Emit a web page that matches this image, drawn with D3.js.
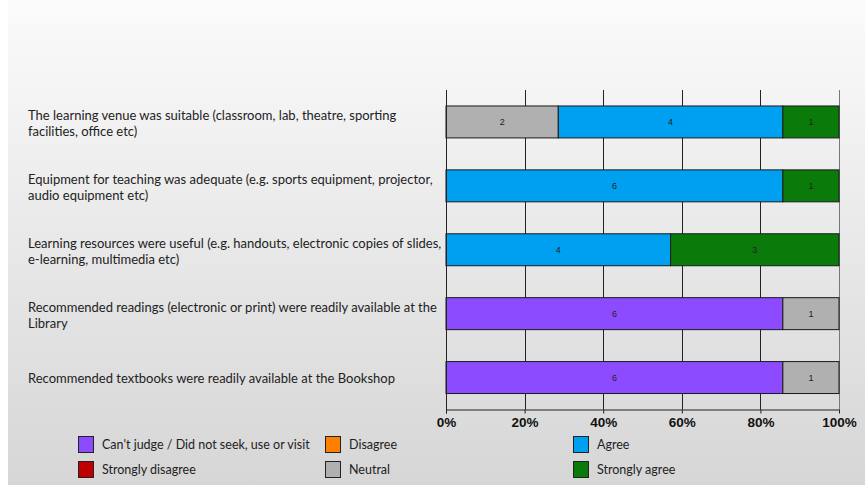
<!DOCTYPE html>
<html>
<head>
<meta charset="utf-8">
<script src="https://cdn.jsdelivr.net/npm/d3@7"></script>
<style>
  body { margin: 0; background: #fff; }
  svg { display: block; }
</style>
</head>
<body>
<div id="graph"></div>
<script>
var categories = [
  "The learning venue was suitable (classroom, lab, theatre, sporting\nfacilities, office etc)",
  "Equipment for teaching was adequate (e.g. sports equipment, projector,\naudio equipment etc)",
  "Learning resources were useful (e.g. handouts, electronic copies of slides,\ne-learning, multimedia etc)",
  "Recommended readings (electronic or print) were readily available at the\nLibrary",
  "Recommended textbooks were readily available at the Bookshop"
]
var seriesNames = ["Can't judge / Did not seek, use or visit", "Strongly disagree", "Disagree", "Neutral", "Agree", "Strongly agree"]
var seriesColors = ["#8c4bff", "#c00000", "#ff8000", "#b0b0b0", "#00a0f0", "#0a7a0a"]
var cantJudge        = [0, 0, 0, 6, 6]
var stronglyDisagree = [0, 0, 0, 0, 0]
var disagree         = [0, 0, 0, 0, 0]
var neutral          = [2, 0, 0, 1, 1]
var agree            = [4, 6, 4, 0, 0]
var stronglyAgree    = [1, 1, 3, 0, 0]
var tickValues = [0, 0.2, 0.4, 0.6, 0.8, 1]

function render(){
  var width = 865, height = 486
  var svg = d3.select('#graph').html('').append('svg')
      .attr('width', width).attr('height', height)

  var grad = svg.append('defs').append('linearGradient')
      .attr('id', 'bg').attr('x1', 0).attr('y1', 0).attr('x2', 0).attr('y2', 1)
  grad.append('stop').attr('offset', '0%').attr('stop-color', '#fbfbfb')
  grad.append('stop').attr('offset', '100%').attr('stop-color', '#d6d6d6')
  svg.append('rect').attr('x', 8).attr('y', 0).attr('width', width - 8).attr('height', 485)
      .attr('fill', 'url(#bg)')

  var pLeft = 446, pRight = 839, pTop = 90, pBottom = 409.5

  var x = d3.scaleLinear().domain([0, 1]).range([pLeft, pRight])
  var y = d3.scaleBand().domain(d3.range(categories.length))
      .range([pTop, pBottom]).paddingInner(0.5).paddingOuter(0.25)

  var series = [cantJudge, stronglyDisagree, disagree, neutral, agree, stronglyAgree]
  var rows = categories.map(function(c, i){
    var r = {i: i}
    var total = d3.sum(series, function(s){ return s[i] })
    series.forEach(function(s, k){ r[k] = s[i] / total })
    return r
  })
  var stack = d3.stack().keys(d3.range(series.length))(rows)

  // grid lines
  svg.append('g').selectAll('line').data(tickValues.slice(1)).enter().append('line')
      .attr('x1', function(d){ return Math.round(x(d)) + 0.5 })
      .attr('x2', function(d){ return Math.round(x(d)) + 0.5 })
      .attr('y1', pTop).attr('y2', pBottom)
      .attr('stroke', function(d){ return d == 1 ? '#777' : '#222' })
      .attr('stroke-width', 1)

  // bars
  var layer = svg.append('g').selectAll('g').data(stack).enter().append('g')
      .attr('fill', function(d, k){ return seriesColors[k] })
  var segs = function(d){ return d.map(function(v){ v.key = d.key; return v }).filter(function(v){ return v[1] - v[0] > 0 }) }
  layer.selectAll('rect').data(segs).enter().append('rect')
      .attr('x', function(d){ return x(d[0]) })
      .attr('width', function(d){ return x(d[1]) - x(d[0]) })
      .attr('y', function(d){ return y(d.data.i) })
      .attr('height', y.bandwidth())
      .attr('stroke', '#1a1a1a').attr('stroke-width', 1)

  layer.selectAll('text').data(segs).enter().append('text')
      .attr('x', function(d){ return (x(d[0]) + x(d[1])) / 2 })
      .attr('y', function(d){ return y(d.data.i) + y.bandwidth() / 2 + 3 })
      .attr('text-anchor', 'middle')
      .attr('font-family', 'Liberation Sans, Arial, sans-serif')
      .attr('font-size', 9)
      .attr('fill', '#222')
      .text(function(d){ return series[d.key][d.data.i] })

  // axes
  var xAxis = svg.append('g').attr('transform', 'translate(0,' + pBottom + ')')
      .call(d3.axisBottom(x).tickValues(tickValues).tickSize(4).tickPadding(4)
        .tickFormat(d3.format('.0%')))
  xAxis.select('.domain').attr('stroke', '#222').attr('d', 'M' + pLeft + ',0.5H' + pRight)
  xAxis.selectAll('.tick line').attr('stroke', '#222')
  xAxis.selectAll('.tick text')
      .attr('font-family', 'Liberation Sans, Arial, sans-serif')
      .attr('font-size', 13.5).attr('font-weight', 'bold').attr('fill', '#111')

  svg.append('line').attr('x1', pLeft + 0.5).attr('x2', pLeft + 0.5)
      .attr('y1', pTop).attr('y2', pBottom + 4).attr('stroke', '#222')

  // category labels
  var lab = svg.append('g').selectAll('text').data(categories).enter().append('text')
      .attr('font-family', 'Lato, sans-serif').attr('font-size', 13).attr('fill', '#222')
      .attr('y', function(d, i){
        var n = d.split('\n').length
        return y(i) + y.bandwidth() / 2 + (n > 1 ? -2 : 5.5)
      })
  lab.selectAll('tspan').data(function(d){ return d.split('\n') }).enter().append('tspan')
      .attr('x', 28)
      .attr('dy', function(d, j){ return j ? 16 : 0 })
      .text(function(d){ return d })

  // legend
  var legendPos = [[78, 436], [78, 461], [325, 436], [325, 461], [573, 436], [573, 461]]
  var order = [0, 1, 2, 3, 4, 5]
  var leg = svg.append('g').selectAll('g').data(order).enter().append('g')
      .attr('transform', function(d, j){ return 'translate(' + legendPos[j] + ')' })
  leg.append('rect').attr('x', 0.5).attr('y', 0.5).attr('width', 15).attr('height', 16)
      .attr('fill', function(d){ return seriesColors[d] })
      .attr('stroke', '#222')
  leg.append('text').attr('x', 24).attr('y', 13)
      .attr('font-family', 'Lato, sans-serif').attr('font-size', 12.5).attr('fill', '#222')
      .text(function(d){ return seriesNames[d] })
}
render()
</script>
</body>
</html>
